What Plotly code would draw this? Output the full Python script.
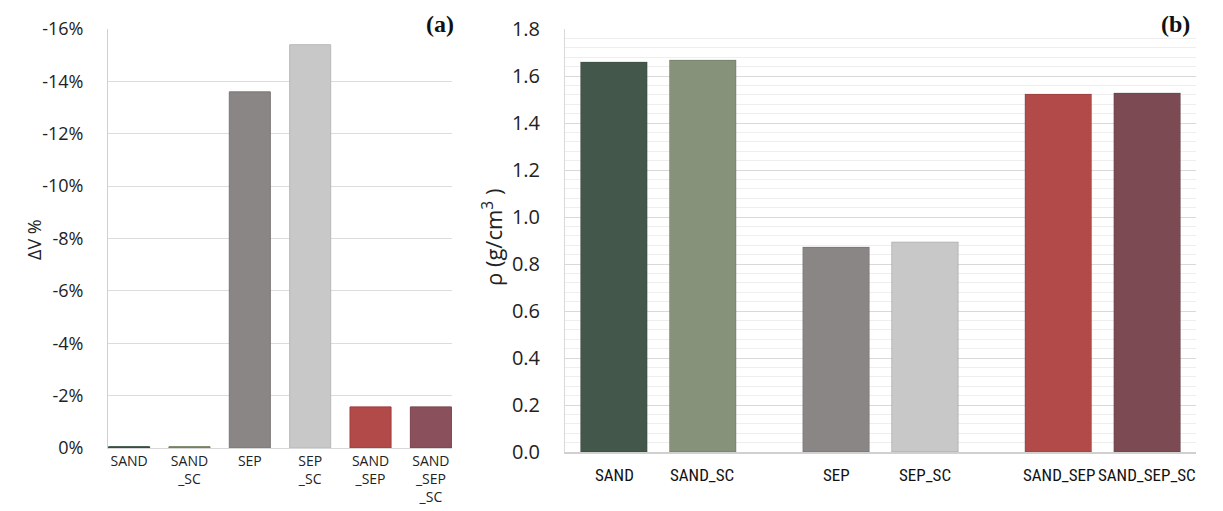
import plotly.graph_objects as go

# ---- data ----
cats_a = ["SAND", "SAND_SC", "SEP", "SEP_SC", "SAND_SEP", "SAND_SEP_SC"]
labels_a = ["SAND", "SAND<br>_SC", "SEP", "SEP<br>_SC", "SAND<br>_SEP", "SAND<br>_SEP<br>_SC"]
dv_pct = [-0.05, -0.05, -13.6, -15.4, -1.57, -1.57]
ticks_a = [-16, -14, -12, -10, -8, -6, -4, -2, 0]

groups_b = ["SAND", "SEP", "SAND_SEP"]
names_base = ["SAND", "SEP", "SAND_SEP"]
names_sc = ["SAND_SC", "SEP_SC", "SAND_SEP_SC"]
rho_base = [1.66, 0.872, 1.523]
rho_sc = [1.668, 0.894, 1.528]

colors_a = ["#3f5a47", "#7d8c6c", "#8a8685", "#c8c8c8", "#b24a4a", "#8a505c"]
lines_a = ["#2f4a37", "#6d7c5c", "#7a7675", "#b8b8b8", "#a03a3a", "#7a404c"]
colors_base = ["#43584a", "#8a8685", "#b24a4a"]
colors_sc = ["#86927a", "#c8c8c8", "#7c4a52"]

# page body has an 8px margin; compensate
OFF = 8
W, H = 1223 - OFF, 511 - OFF


def px(sx):
    return (sx - OFF) / W


def py(sy):
    return 1 - (sy - OFF) / H


fig = go.Figure()

fig.add_trace(go.Bar(
    x=cats_a, y=dv_pct, marker=dict(color=colors_a, line=dict(color=lines_a, width=1)),
    width=0.68, xaxis="x", yaxis="y", showlegend=False))

fig.add_trace(go.Bar(
    x=groups_b, y=rho_base, marker=dict(color=colors_base, line=dict(color="rgba(0,0,0,0.15)", width=1)),
    xaxis="x2", yaxis="y2", showlegend=False, offsetgroup="a"))
fig.add_trace(go.Bar(
    x=groups_b, y=rho_sc, marker=dict(color=colors_sc, line=dict(color="rgba(0,0,0,0.15)", width=1)),
    xaxis="x2", yaxis="y2", showlegend=False, offsetgroup="b"))

fig.update_layout(
    width=W, height=H, margin=dict(l=0, r=0, t=0, b=0),
    plot_bgcolor="white", paper_bgcolor="white",
    barmode="group", bargap=0.2, bargroupgap=0.25,
    xaxis=dict(domain=[px(108), px(452)], type="category", range=[-0.35, 5.35],
               tickvals=cats_a, ticktext=labels_a, ticks="",
               tickfont=dict(family="Open Sans, DejaVu Sans", size=14, color="#222"),
               showline=True, linecolor="#d9d9d9", linewidth=1, automargin=False, anchor="y"),
    yaxis=dict(domain=[py(448), py(29)], range=[0, -16], tickvals=ticks_a,
               ticktext=[f"{v}%" for v in ticks_a],
               tickfont=dict(family="Open Sans, DejaVu Sans", size=18, color="#222"),
               ticklabelstandoff=20,
               showgrid=True, gridcolor="#dcdcdc",
               zeroline=False, showline=True, linecolor="#d0d0d0", ticks="", automargin=False,
               anchor="x"),
    xaxis2=dict(domain=[px(565), px(1196)], type="category", range=[-0.42, 2.42],
                showticklabels=False, ticks="", showline=True, linecolor="#d0d0d0", linewidth=2,
                automargin=False, anchor="y2"),
    yaxis2=dict(domain=[py(452), py(29)], range=[0, 1.8], dtick=0.2, tickformat=".1f",
                tickfont=dict(family="Open Sans, DejaVu Sans", size=20, color="#222"),
                ticklabelstandoff=20,
                showgrid=True, gridcolor="#d9d9d9", zeroline=False, showline=True,
                linecolor="#d9d9d9", ticks="", automargin=False,
                minor=dict(dtick=0.04, showgrid=True, gridcolor="#eeeeee"),
                anchor="x2"),
)

label_font_b = dict(family="Liberation Sans Narrow, Roboto Condensed, Open Sans", size=17, color="#111")
for g, nb, ns in zip(groups_b, names_base, names_sc):
    for name, shift in ((nb, -44), (ns, 44)):
        fig.add_annotation(x=g, y=0, xref="x2", yref="y2 domain", xshift=shift, yshift=-11,
                           yanchor="top", text=name, showarrow=False, font=label_font_b)

fig.add_annotation(x=px(20), y=py(240), xref="paper", yref="paper", textangle=-90,
                   text="ΔV %", showarrow=False,
                   font=dict(family="Open Sans, DejaVu Sans", size=18, color="#222"))
fig.add_annotation(x=px(492), y=py(238), xref="paper", yref="paper", textangle=-90,
                   text="ρ (g/cm<sup>3</sup> )", showarrow=False,
                   font=dict(family="Open Sans, DejaVu Sans", size=22, color="#222"))

fig.add_annotation(x=px(456), y=py(9), xref="paper", yref="paper", xanchor="right", yanchor="top",
                   text="<b>(a)</b>", showarrow=False,
                   font=dict(family="Liberation Serif, DejaVu Serif", size=24, color="#111"))
fig.add_annotation(x=px(1192), y=py(9), xref="paper", yref="paper", xanchor="right", yanchor="top",
                   text="<b>(b)</b>", showarrow=False,
                   font=dict(family="Liberation Serif, DejaVu Serif", size=24, color="#111"))

fig.write_html("out.html")
